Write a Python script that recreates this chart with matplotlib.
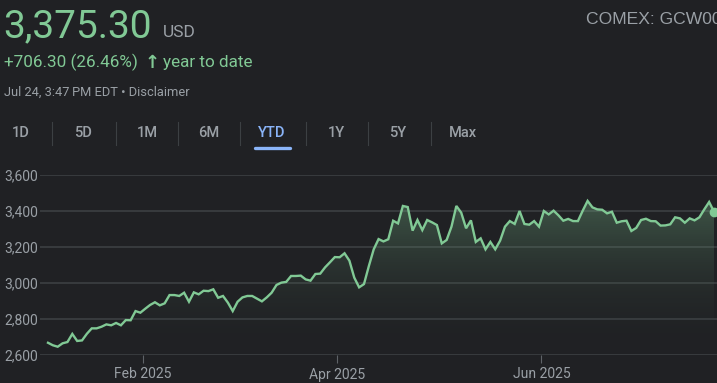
import numpy as np
import pandas as pd
import matplotlib
matplotlib.use("Agg")
import matplotlib.pyplot as plt
from matplotlib.lines import Line2D

# Gold futures closes, year to date
values = [2668, 2654, 2646, 2665, 2672, 2717, 2678, 2681, 2718, 2748,
          2748, 2757, 2770, 2765, 2778, 2765, 2794, 2793, 2844, 2835,
          2857, 2878, 2893, 2876, 2887, 2933, 2933, 2928, 2946, 2896,
          2948, 2937, 2957, 2955, 2965, 2918, 2928, 2891, 2844, 2896,
          2920, 2928, 2928, 2913, 2898, 2920, 2946, 2989, 3002, 3006,
          3039, 3039, 3041, 3020, 3013, 3050, 3052, 3087, 3115, 3144,
          3143, 3165, 3124, 3030, 2976,
          2994, 3094, 3187, 3244, 3231, 3243, 3346, 3331, 3428, 3422,
          3291, 3350, 3294, 3350, 3337, 3322, 3220, 3239, 3313, 3428,
          3391, 3304, 3348, 3228, 3248, 3187, 3228, 3187, 3235, 3313,
          3344, 3328, 3400, 3328, 3324, 3344, 3313, 3400, 3381, 3402,
          3376, 3346, 3356, 3344, 3344, 3402, 3456, 3420, 3409, 3407,
          3387, 3396, 3335, 3343, 3346, 3289, 3306, 3350, 3357, 3344,
          3343, 3319, 3320, 3326, 3365, 3359, 3335, 3359, 3348, 3365,
          3409, 3450, 3396]
holidays = ["2025-01-09", "2025-01-20", "2025-02-17", "2025-04-18",
            "2025-05-26", "2025-06-19", "2025-07-04"]
tick_months = ["2025-02-01", "2025-04-01", "2025-06-01"]
y_ticks = [2600, 2800, 3000, 3200, 3400, 3600]
tabs = ["1D", "5D", "1M", "6M", "YTD", "1Y", "5Y", "Max"]

price = "3,375.30"
change = "+706.30 (26.46%)"
stamp = "Jul 24, 3:47\u2009PM EDT \u2022 Disclaimer"
symbol = "COMEX: GCW00"

dates = pd.bdate_range("2025-01-02", periods=len(values), freq="C", holidays=holidays)

BG = "#202124"
GREEN = "#81c995"
GRAY = "#9aa0a6"
GRID = "#3c4043"
BLUE = "#8ab4f8"

W, H = 717, 383
plt.rcParams["font.family"] = ["Roboto", "DejaVu Sans"]
fig = plt.figure(figsize=(W / 100, H / 100), dpi=100, facecolor=BG)


def fx(x):
    return x / W


def fy(y):
    return 1 - y / H


# header
fig.text(fx(3), fy(37), price, color=GREEN, fontsize=28, va="baseline")
fig.text(fx(163), fy(37), "USD", color=GRAY, fontsize=12.5, va="baseline")
fig.text(fx(586), fy(24.5), symbol, color=GRAY, fontsize=12.6, va="baseline",
         family="Liberation Sans")
fig.text(fx(4), fy(67), change, color=GREEN, fontsize=12.3, va="baseline")
fig.text(fx(145), fy(67.5), "\u2191", color=GREEN, fontsize=13, va="baseline",
         family="DejaVu Sans", fontweight="bold")
fig.text(fx(163), fy(67), "year to date", color=GREEN, fontsize=12.3, va="baseline")
fig.text(fx(4), fy(96), stamp, color=GRAY, fontsize=9.3, va="baseline",
         family=["Roboto", "DejaVu Sans"])

# range tabs
tab_x = [21, 83, 147, 209, 272, 336, 398, 463]
sep_x = [52, 116, 178, 240, 306, 368, 431]
for lbl, x in zip(tabs, tab_x):
    fig.text(fx(x), fy(137.5), lbl, color=BLUE if lbl == "YTD" else GRAY,
             fontsize=10.5, fontweight="medium", ha="center", va="baseline")
for x in sep_x:
    fig.add_artist(Line2D([fx(x), fx(x)], [fy(122), fy(145)], color=GRID, lw=0.8))
fig.add_artist(Line2D([fx(255), fx(290)], [fy(147.5), fy(147.5)], color=BLUE,
                      lw=2.4, solid_capstyle="round"))

# chart
left, right, top, bottom = 40, 717, 175, 355
ax = fig.add_axes([fx(left), fy(bottom), fx(right - left), (bottom - top) / H])
ax.set_facecolor(BG)
n = len(values)
x = np.arange(n)
step = (714 - 48) / (n - 1)
ax.set_xlim(-(48 - left) / step, n - 1 + (right - 714) / step)
ax.set_ylim(2600, 3600)

# gradient fill under the line
poly = ax.fill_between(x, values, 2600, color="none")
grad = np.linspace(0, 1, 256).reshape(-1, 1)
cmap = matplotlib.colors.LinearSegmentedColormap.from_list(
    "g", [(0.129, 0.133, 0.141, 0.0), (0.506, 0.788, 0.584, 0.32)])
im = ax.imshow(grad, aspect="auto", cmap=cmap, origin="lower",
               extent=[x[0], x[-1], 2600, max(values)], zorder=1)
im.set_clip_path(poly.get_paths()[0], transform=ax.transData)

ax.plot(x, values, color=GREEN, lw=1.7, zorder=3, solid_joinstyle="miter")
ax.plot(x[-1], values[-1], "o", color=GREEN, ms=6, zorder=4, clip_on=False)

ax.set_yticks(y_ticks)
ax.set_yticklabels([f"{v:,}" for v in y_ticks])
ax.grid(axis="y", color=GRID, lw=1.2)
ax.set_axisbelow(True)

tick_pos = [np.searchsorted(dates, pd.Timestamp(m)) - 0.5 for m in tick_months]
ax.set_xticks(tick_pos)
ax.set_xticklabels([pd.Timestamp(m).strftime("%b %Y") for m in tick_months])

for s in ax.spines.values():
    s.set_visible(False)
ax.tick_params(axis="y", length=0, colors=GRAY, labelsize=10, pad=0)
for lbl in ax.get_yticklabels():
    lbl.set_horizontalalignment("left")
    lbl.set_x(-(left - 4) / (right - left))
ax.tick_params(axis="x", length=6, width=0.8, colors=GRAY, labelsize=10, pad=3)
ax.tick_params(axis="x", color="#5f6368")

fig.savefig("out.png", dpi=100, facecolor=BG)
